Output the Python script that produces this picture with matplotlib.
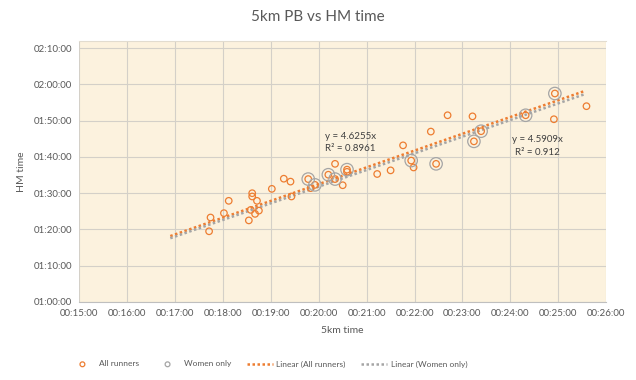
import matplotlib.pyplot as plt
from matplotlib.ticker import FuncFormatter, MultipleLocator

plt.rcParams['font.family'] = ['Lato', 'DejaVu Sans']

# 5km PB (minutes) and half marathon time (minutes), all runners
all_5k = [17.71, 17.74, 18.02, 18.12, 18.54, 18.58, 18.61, 18.61, 18.67, 18.71,
          18.75, 19.02, 19.27, 19.41, 19.43, 19.78, 19.83, 19.92, 20.20, 20.34,
          20.34, 20.50, 20.59, 20.59, 21.22, 21.50, 21.76, 21.93, 21.98, 22.34,
          22.45, 22.69, 23.21, 23.24, 23.39, 24.32, 24.91, 24.93, 25.59]
all_hm = [79.5, 83.3, 84.5, 87.9, 82.5, 85.4, 90.0, 89.1, 84.3, 87.9,
          85.2, 91.2, 94.0, 93.2, 89.1, 93.9, 91.4, 92.3, 95.1, 98.1,
          93.9, 92.2, 96.5, 95.9, 95.3, 96.3, 103.2, 99.0, 97.1, 107.0,
          98.1, 111.5, 111.2, 104.3, 107.1, 111.5, 110.4, 117.5, 114.0]

# women only
w_5k = [19.78, 19.92, 20.20, 20.34, 20.59, 21.93, 22.45, 23.24, 23.39, 24.32, 24.93]
w_hm = [93.9, 92.3, 95.1, 93.9, 96.5, 99.0, 98.1, 104.3, 107.1, 111.5, 117.5]

# trendlines through origin (slope, R²) as shown on the chart
slope_all, r2_all = 4.6255, 0.8961
slope_w, r2_w = 4.5909, 0.912
trend_x = [16.9, 25.55]


def fmt_time(v, pos):
    s = int(round(v * 60))
    return '%02d:%02d:%02d' % (s // 3600, (s // 60) % 60, s % 60)


fig = plt.figure(figsize=(6.36, 3.8), dpi=100)
ax = fig.add_axes([0.1247, 0.2053, 0.8283, 0.687])
ax.set_facecolor('#fcf2de')

ax.scatter(all_5k, all_hm, s=22, facecolors='none', edgecolors='#ed7d31',
           linewidths=0.9, zorder=3, label='All runners')
ax.scatter(w_5k, w_hm, s=80, facecolors='none', edgecolors='#a5a5a5',
           linewidths=0.9, zorder=3, label='Women only')

ax.plot(trend_x, [slope_all * x for x in trend_x], color='#ed7d31', lw=1.8,
        ls=(0, (1, 1)), zorder=2, label='Linear (All runners)')
ax.plot(trend_x, [slope_w * x for x in trend_x], color='#a5a5a5', lw=1.8,
        ls=(0, (1, 1)), zorder=2, label='Linear (Women only)')

ax.text(20.12, 104.0, 'y = %.4fx\nR² = %.4f' % (slope_all, r2_all), fontsize=7,
        color='#404040', ha='left', va='center', linespacing=1.5)
ax.text(24.57, 103.0, 'y = %.4fx\nR² = %.3f' % (slope_w, r2_w), fontsize=7,
        color='#404040', ha='center', va='center', linespacing=1.5)

ax.set_xlim(15, 26)
ax.set_ylim(60, 132)
ax.xaxis.set_major_locator(MultipleLocator(1))
ax.yaxis.set_major_locator(MultipleLocator(10))
ax.xaxis.set_major_formatter(FuncFormatter(fmt_time))
ax.yaxis.set_major_formatter(FuncFormatter(fmt_time))
ax.grid(True, color='#d4d0c8', lw=0.8)
ax.set_axisbelow(True)
for side in ['right', 'left']:
    ax.spines[side].set_visible(False)
ax.spines['top'].set_color('#e2dccf')
ax.spines['top'].set_linewidth(0.8)
ax.spines['bottom'].set_color('#bfbfbf')
ax.tick_params(length=0, labelsize=7, colors='#595959', pad=5)

ax.set_xlabel('5km time', fontsize=7.5, color='#595959', labelpad=6)
ax.set_ylabel('HM time', fontsize=7.5, color='#595959', labelpad=6)
fig.text(0.5, 0.955, '5km PB vs HM time', ha='center', va='center',
         fontsize=11, color='#595959')

leg = fig.legend(loc='center left', bbox_to_anchor=(0.0975, 0.042), ncol=4,
                 frameon=False, fontsize=6, labelcolor='#595959',
                 columnspacing=1.9, handlelength=3.1, handletextpad=0.4)
for h in leg.legend_handles[:2]:
    h.set_sizes([12])

fig.savefig('out.png', dpi=100)
